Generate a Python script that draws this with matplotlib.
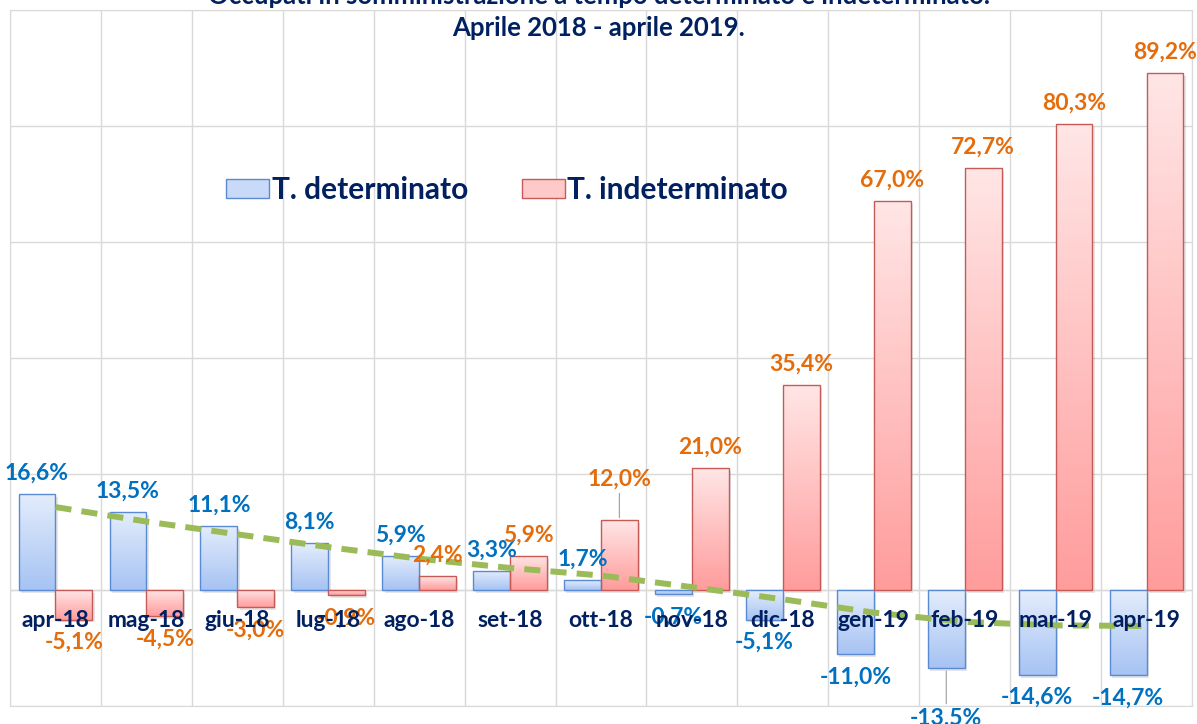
import numpy as np
import matplotlib
matplotlib.use("Agg")
import matplotlib.pyplot as plt
from matplotlib.patches import Patch
from matplotlib.colors import LinearSegmentedColormap

plt.rcParams['font.family'] = ['Lato', 'DejaVu Sans']

# Data
mesi = ["apr-18", "mag-18", "giu-18", "lug-18", "ago-18", "set-18", "ott-18",
        "nov-18", "dic-18", "gen-19", "feb-19", "mar-19", "apr-19"]
determinato = [16.6, 13.5, 11.1, 8.1, 5.9, 3.3, 1.7, -0.7, -5.1, -11.0, -13.5, -14.6, -14.7]
indeterminato = [-5.1, -4.5, -3.0, -0.9, 2.4, 5.9, 12.0, 21.0, 35.4, 67.0, 72.7, 80.3, 89.2]
# dashed trend line on T. determinato
tendenza = [14.3, 11.8, 9.6, 7.4, 5.4, 3.8, 2.5, 0.5, -1.6, -3.9, -5.5, -6.1, -6.2]

NAVY = "#002060"
BLUE_TXT = "#0070C0"
ORANGE_TXT = "#E46C0A"
GRID = "#D9D9D9"

fig = plt.figure(figsize=(11.97, 7.24), dpi=100)
ax = fig.add_axes([10 / 1197, 18 / 724, 1182 / 1197, 696 / 724])

x = np.arange(len(mesi))
w = 0.405

blue_cmap = LinearSegmentedColormap.from_list("b", ["#E4EDFC", "#A6C3F3"])
red_cmap = LinearSegmentedColormap.from_list("r", ["#FFE6E6", "#FF9C9C"])
grad = np.linspace(0, 1, 256).reshape(-1, 1)


def gradient_bars(xpos, vals, cmap, edge):
    bars = ax.bar(xpos, vals, w, facecolor="none", edgecolor=edge, linewidth=1.0, zorder=3)
    for b in bars:
        x0, y0 = b.get_x(), b.get_y()
        x1, y1 = x0 + b.get_width(), y0 + b.get_height()
        lo, hi = min(y0, y1), max(y0, y1)
        # soft shadow
        ax.bar(x0 + b.get_width() / 2 + 0.025, hi - lo, w, bottom=lo - 0.5,
               color="#000000", alpha=0.10, linewidth=0, zorder=2)
        im = ax.imshow(grad, cmap=cmap, extent=[x0, x1, lo, hi], aspect="auto",
                       origin="upper", zorder=2.6)
        im.set_clip_path(b)
    return bars


gradient_bars(x - w / 2, determinato, blue_cmap, "#5A8AD2")
gradient_bars(x + w / 2, indeterminato, red_cmap, "#C55A57")

ax.plot(x, tendenza, color="#9BBB59", lw=4.3, linestyle=(0, (2.7, 1.7)),
        dash_capstyle="butt", zorder=5)

ax.set_xlim(-0.5, len(mesi) - 0.5)
ax.set_ylim(-20, 100)
ax.set_yticks(np.arange(-20, 101, 20))
ax.set_xticks(np.arange(-0.5, len(mesi), 1.0))
ax.tick_params(length=0, labelleft=False, labelbottom=False)
ax.grid(True, color=GRID, lw=1)
ax.set_axisbelow(True)
for s in ax.spines.values():
    s.set_color(GRID)
ax.axhline(0, color=GRID, lw=1, zorder=2.5)

for i, m in enumerate(mesi):
    ax.text(i, -5.3, m, ha="center", va="center", fontsize=16.5,
            fontweight="bold", color=NAVY, zorder=10)


def fmt(v):
    return f"{v:.1f}%".replace(".", ",")


def label(xpos, v, color, dy=None, leader=False):
    if dy is None:
        dy = 15 if v >= 0 else -16.5
    ax.annotate(fmt(v), (xpos, v), xytext=(0, dy), textcoords="offset points",
                ha="center", va="center", fontsize=16.5, fontweight="bold",
                color=color, zorder=8, annotation_clip=False,
                arrowprops=dict(arrowstyle="-", color="#A6A6A6", lw=0.9,
                                shrinkA=1, shrinkB=2) if leader else None)


for i, v in enumerate(determinato):
    if mesi[i] == "feb-19":
        label(x[i] - w / 2, v, BLUE_TXT, dy=-36, leader=True)
    else:
        label(x[i] - w / 2, v, BLUE_TXT)
for i, v in enumerate(indeterminato):
    if mesi[i] == "ott-18":
        label(x[i] + w / 2, v, ORANGE_TXT, dy=30, leader=True)
    else:
        label(x[i] + w / 2, v, ORANGE_TXT)

handles = [Patch(facecolor="#C9DAF8", edgecolor="#5A8AD2", label="T. determinato"),
           Patch(facecolor="#FFC9C9", edgecolor="#C55A57", label="T. indeterminato")]
leg = ax.legend(handles=handles, loc="center left", bbox_to_anchor=(189 / 1182, 0.741),
                ncol=2, frameon=False, fontsize=21.5, handlelength=1.45, handleheight=0.6,
                handletextpad=0.08, columnspacing=1.8)
for t in leg.get_texts():
    t.set_color(NAVY)
    t.set_fontweight("bold")

fig.text(0.5, 1 - 4 / 724, "Occupati in somministrazione a tempo determinato e indeterminato.",
         ha="center", va="baseline", fontsize=18.5, fontweight="bold", color=NAVY)
fig.text(0.5, 1 - 36 / 724, "Aprile 2018 - aprile 2019.",
         ha="center", va="baseline", fontsize=18.5, fontweight="bold", color=NAVY)

fig.savefig("out.png", dpi=100)
